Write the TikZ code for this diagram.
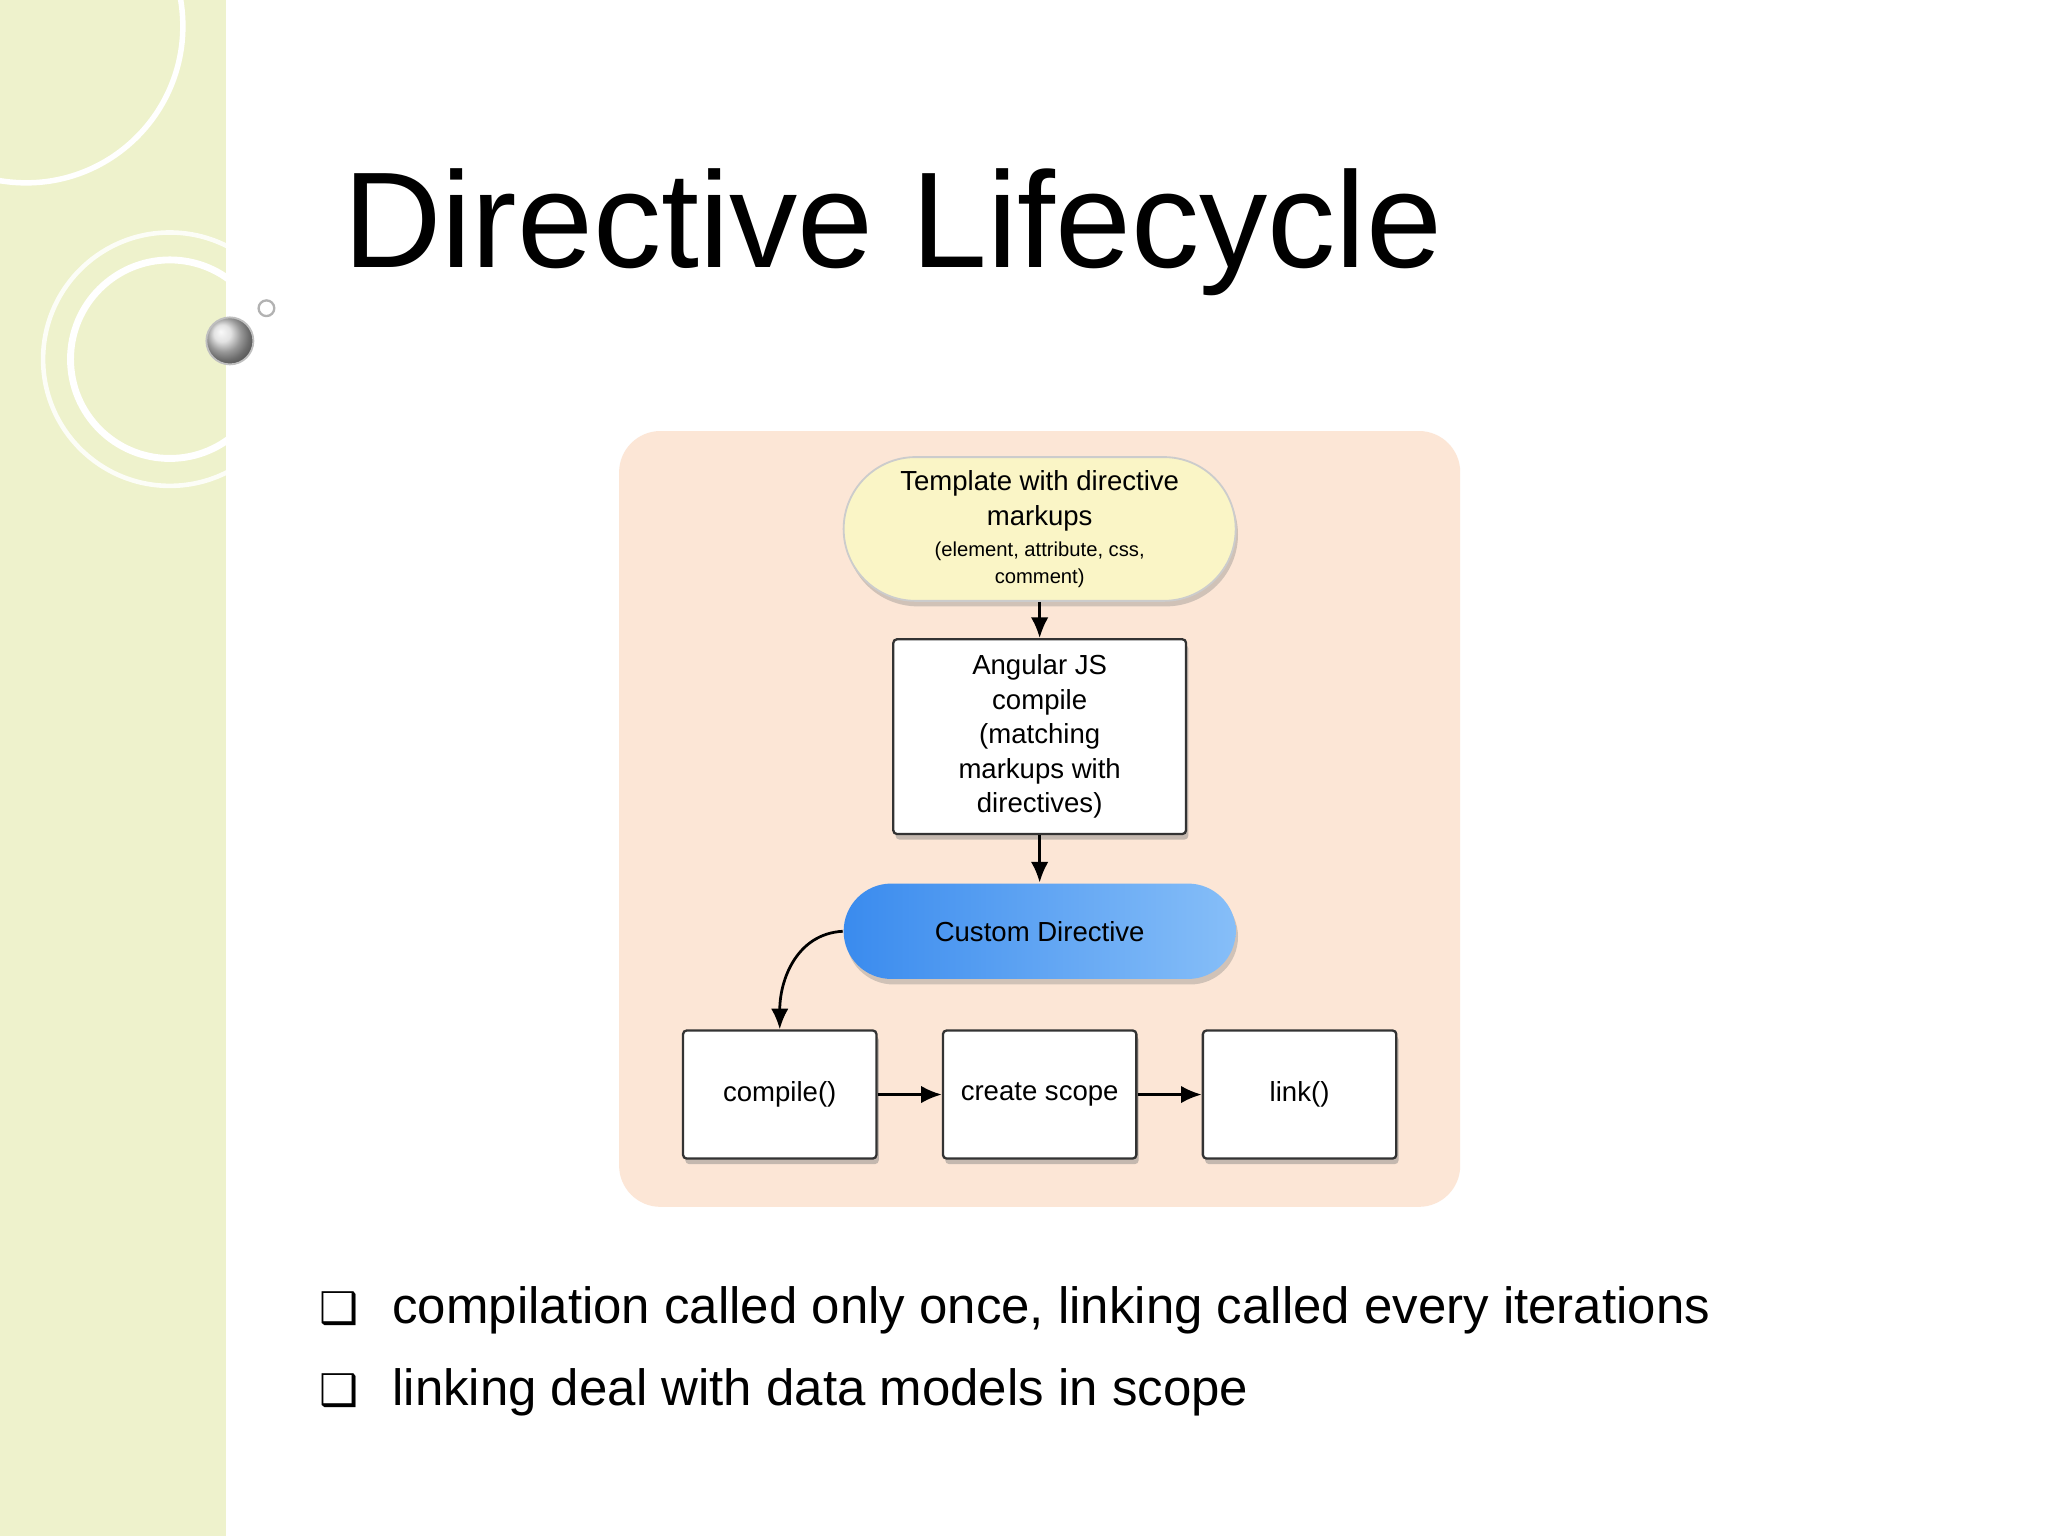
\documentclass[tikz,border=0pt]{standalone}
\usepackage{fontspec}
\setmainfont{Liberation Sans}
\newfontfamily\dejavu{DejaVu Sans}
\usetikzlibrary{shadows,arrows.meta,shapes.misc}
\definecolor{band}{HTML}{EEF2CC}
\definecolor{panel}{HTML}{FCE6D6}
\definecolor{tmpl}{HTML}{FAF5C6}
\definecolor{blueA}{HTML}{3A8BEE}
\definecolor{blueB}{HTML}{86BEF8}
\tikzset{
  box/.style={draw=black!80,line width=0.5pt,fill=white,rounded corners=0.8pt,align=center,
    font=\fontsize{6}{7.5}\selectfont,drop shadow={opacity=0.45,shadow xshift=0.5pt,shadow yshift=-1.2pt}},
  pill/.style={rounded rectangle,align=center,drop shadow={opacity=0.35,shadow xshift=0.5pt,shadow yshift=-1.2pt}},
  arr/.style={-{Latex[length=4.5pt,width=3.8pt]},line width=0.6pt,black},
  bul/.style={anchor=base west,font=\fontsize{11.1}{13}\selectfont}
}
\begin{document}
\begin{tikzpicture}[x=0.01cm,y=-0.01cm]
\useasboundingbox (0,0) rectangle (1568,1176);
\fill[white] (0,0) rectangle (1568,1176);
\fill[band] (0,0) rectangle (173,1176);
\begin{scope}
\clip (0,0) rectangle (173,1176);
\draw[white,line width=1.2pt] (20,20) circle (120);
\draw[white!85!band,line width=1pt] (130,275) circle (97);
\draw[white,line width=1.5pt] (130,275) circle (76);
\end{scope}
\shade[ball color=gray!30,draw=gray!50] (176,261) circle (18);
\draw[gray!60,line width=0.5pt,fill=white] (204,236) circle (6);
\node[anchor=base west,inner sep=0,font=\fontsize{29.7}{34}\selectfont] (title) at (262,205) {Directive Lifecycle};
\fill[panel,rounded corners=9pt] (474,330) rectangle (1118,924);
\node[pill,fill=tmpl,draw=gray!40,minimum width=3.0cm,minimum height=0.95cm,inner sep=1pt,inner xsep=0pt] (tm) at (796,405)
  {\renewcommand\arraystretch{0.75}\begin{tabular}{@{}c@{}}
   \fontsize{6}{7.5}\selectfont Template with directive\\[-1.4pt]
   \fontsize{6}{7.5}\selectfont markups\\[-2.2pt]
   \fontsize{4.4}{5.5}\selectfont (element, attribute, css,\\[-3.1pt]
   \fontsize{4.4}{5.5}\selectfont comment)\end{tabular}};
\node[box,minimum width=2.24cm,minimum height=1.49cm] (ang) at (796,564)
  {Angular JS\\compile\\(matching\\markups with\\directives)};
\node[pill,left color=blueA,right color=blueB,draw=none,minimum width=3.0cm,minimum height=0.73cm,inner xsep=0pt,
  font=\fontsize{6}{7.5}\selectfont] (cd) at (796,713) {\makebox[2.3cm][c]{Custom Directive}};
\node[box,minimum width=1.48cm,minimum height=0.98cm] (c) at (597,838) {compile()};
\node[box,minimum width=1.48cm,minimum height=0.98cm] (s) at (796,838) {create scope};
\node[box,minimum width=1.48cm,minimum height=0.98cm] (l) at (995,838) {link()};
\draw[arr] (tm.south) -- (ang.north);
\draw[arr] (ang.south) -- (cd.north);
\draw[arr] (cd.west) .. controls (610,715) and (597,750) .. (c.north);
\draw[arr] (c.east) -- (s.west);
\draw[arr] (s.east) -- (l.west);
\node[bul,font=\dejavu\fontsize{9.5}{11}\selectfont] (b1) at (232,1013) {❑};
\node[bul] (t1) at (288,1013) {compilation called only once, linking called every iterations};
\node[bul,font=\dejavu\fontsize{9.5}{11}\selectfont] (b2) at (232,1076) {❑};
\node[bul] (t2) at (288,1076) {linking deal with data models in scope};
\end{tikzpicture}
\end{document}
